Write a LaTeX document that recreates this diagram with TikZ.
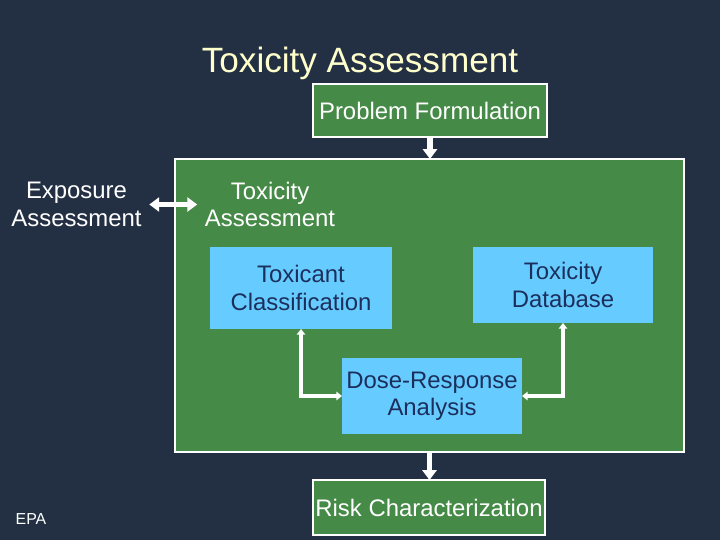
\documentclass[tikz,border=0pt]{standalone}
\usepackage{fontspec}
\setmainfont{Liberation Sans}
\usetikzlibrary{arrows.meta,positioning}
\definecolor{SlideNavy}{HTML}{233044}
\definecolor{SlideGreen}{HTML}{468A47}
\definecolor{SlideSky}{HTML}{66CCFF}
\definecolor{SlideInk}{HTML}{1C2F5C}
\definecolor{SlideCream}{HTML}{FFFFCC}
\tikzset{
    % Base node style
    basenode/.style={
        inner sep=0pt,
        outer sep=0pt,
        align=center,
        text=white,
        font=\fontsize{17}{19.5}\selectfont
    },
    % Green stage box
    stagebox/.style={
        basenode,
        draw=white,
        fill=SlideGreen,
        line width=1.4pt
    },
    % Blue step box
    stepbox/.style={
        basenode,
        fill=SlideSky,
        text=SlideInk,
        minimum width=4.5cm,
        minimum height=1.9cm
    },
    % Plain label
    plainlabel/.style={
        basenode
    },
    % Thick flow arrow
    flowarrow/.style={
        -{Triangle[width=10pt,length=7pt]},
        line width=4pt,
        draw=white
    },
    % Thick bidirectional arrow
    biarrow/.style={
        {Triangle[width=10pt,length=7pt]}-{Triangle[width=10pt,length=7pt]},
        line width=3.2pt,
        draw=white,
        shorten <=5.5pt,
        shorten >=5.5pt
    },
    % Thin link arrow
    linkarrow/.style={
        {Triangle[width=6pt,length=4pt]}-{Triangle[width=6pt,length=4pt]},
        line width=2.5pt,
        draw=white
    }
}
\begin{document}
\begin{tikzpicture}[x=0.025cm, y=-0.025cm]
    % Background
    \fill[SlideNavy] (0,0) rectangle (720,540);

    % Title
    \node[plainlabel, text=SlideCream, font=\fontsize{25}{30}\selectfont] (title) at (360,63) {Toxicity Assessment};

    % Stages
    \node[stagebox, minimum width=5.85cm, minimum height=1.325cm] (problem) at (430,110.5) {Problem Formulation};
    \node[stagebox, minimum width=12.725cm, minimum height=7.325cm] (toxbox) at (429.5,305.5) {};
    \node[stagebox, minimum width=5.8cm, minimum height=1.375cm] (risk) at (429,507.5) {Risk Characterization};

    % Labels
    \node[plainlabel] (exposure) at (76.5,204.5) {Exposure\\Assessment};
    \node[plainlabel] (toxlabel) at (270,204.5) {Toxicity\\Assessment};
    \node[plainlabel, font=\fontsize{11.3}{13}\selectfont] (epa) at (31,519) {EPA};

    % Steps
    \node[stepbox, minimum width=4.55cm, minimum height=2.05cm] (classif) at (301,288) {Toxicant\\Classification};
    \node[stepbox] (database) at (563,285) {Toxicity\\Database};
    \node[stepbox] (doseresp) at (432,396) {Dose-Response\\Analysis};

    % Arrows
    \draw[flowarrow] (problem.south) -- (problem.south |- toxbox.north);
    \draw[flowarrow] (toxbox.south) -- (toxbox.south |- risk.north);
    \draw[biarrow] (exposure.east) -- (toxlabel.west);

    % Links
    \draw[linkarrow] (classif.south) |- (doseresp.west);
    \draw[linkarrow] (database.south) |- (doseresp.east);
\end{tikzpicture}
\end{document}
